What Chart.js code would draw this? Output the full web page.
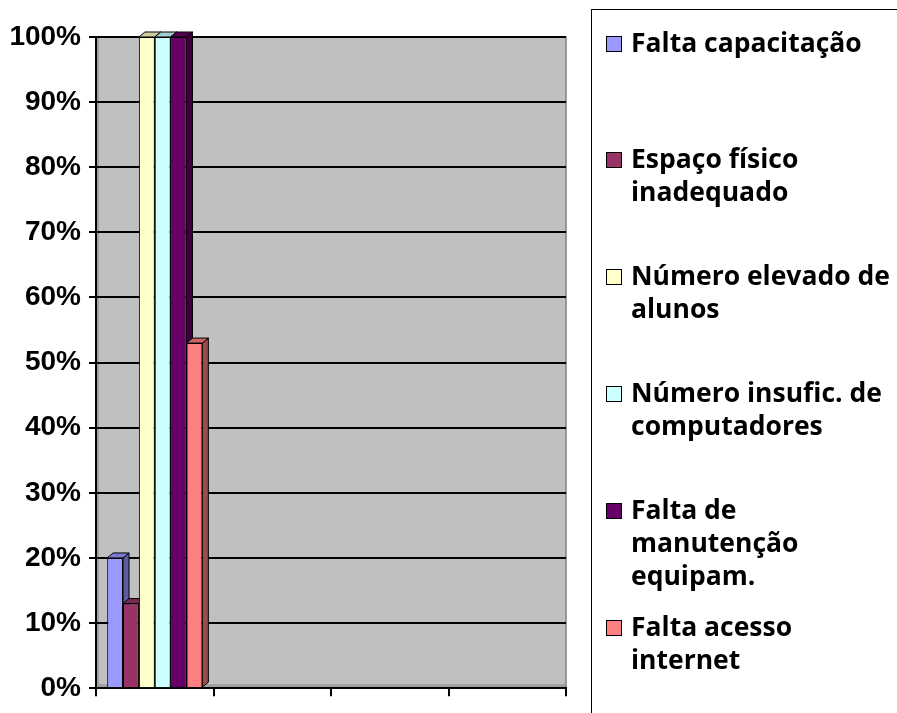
<!DOCTYPE html>
<html lang="pt">
<head>
    <meta charset="utf-8"/>
    <script src="https://cdn.jsdelivr.net/npm/chart.js@4.4.1/dist/chart.umd.min.js"></script>
    <style>
        body { margin: 0; background: #fff; }
        #wrap { position: relative; width: 897px; height: 713px; overflow: hidden; }
        #legend {
            position: absolute; left: 591px; top: 9px; width: 320px; height: 720px;
            border: 1px solid #000; box-sizing: border-box;
            font-family: "Open Sans", sans-serif; font-weight: 700; font-size: 26.5px;
        }
        .item { position: absolute; left: 39px; width: 268px; line-height: 33px; }
        .box { position: absolute; left: -25px; top: 10px; width: 14px; height: 14px; border: 1px solid #000; }
    </style>
</head>
<body>
    <div id="wrap">
        <canvas id="chart" width="897" height="713"></canvas>
        <div id="legend"></div>
    </div>
    <script>
        // one group of bars, three empty category slots
        const categories = ["", "", "", ""];
        const seriesNames = [
            "Falta capacitação",
            "Espaço físico inadequado",
            "Número elevado de alunos",
            "Número insufic. de computadores",
            "Falta de manutenção equipam.",
            "Falta acesso internet"
        ];
        const seriesValues = [20, 13, 100, 100, 100, 53];
        const seriesColors = ["#9999FF", "#993366", "#FFFFCC", "#CCFFFF", "#660066", "#FF8080"];
        const yTicks = [0, 10, 20, 30, 40, 50, 60, 70, 80, 90, 100];

        function shade(hex, f) {
            const n = parseInt(hex.slice(1), 16);
            const r = Math.round(((n >> 16) & 255) * f);
            const g = Math.round(((n >> 8) & 255) * f);
            const b = Math.round((n & 255) * f);
            return "rgb(" + r + "," + g + "," + b + ")";
        }

        const DX = 6, DY = 5;

        // grey wall behind the bars
        const plotBack = {
            id: "plotBack",
            beforeDraw(chart) {
                const a = chart.chartArea, ctx = chart.ctx;
                ctx.save();
                ctx.fillStyle = "#C0C0C0";
                ctx.fillRect(a.left, a.top, a.right - a.left, a.bottom - a.top);
                ctx.fillStyle = "#A0A0A0";
                ctx.fillRect(a.left, a.top, 3, a.bottom - a.top);
                ctx.fillRect(a.left, a.bottom - 4, a.right - a.left, 4);
                ctx.strokeStyle = "#808080";
                ctx.lineWidth = 1.5;
                ctx.strokeRect(a.left, a.top, a.right - a.left, a.bottom - a.top);
                ctx.restore();
            }
        };

        // side and top faces, taken from the bar elements the scales placed
        const bar3d = {
            id: "bar3d",
            beforeDatasetsDraw(chart) {
                const ctx = chart.ctx;
                ctx.save();
                ctx.lineWidth = 1;
                ctx.strokeStyle = "#000";
                chart.data.datasets.forEach((ds, i) => {
                    const meta = chart.getDatasetMeta(i);
                    meta.data.forEach((bar, j) => {
                        if (ds.data[j] == null) return;
                        const p = bar.getProps(["x", "y", "base", "width"], true);
                        const l = p.x - p.width / 2, r = p.x + p.width / 2;
                        ctx.fillStyle = shade(seriesColors[i], 0.6);
                        ctx.beginPath();
                        ctx.moveTo(r, p.y);
                        ctx.lineTo(r + DX, p.y - DY);
                        ctx.lineTo(r + DX, p.base - DY);
                        ctx.lineTo(r, p.base);
                        ctx.closePath();
                        ctx.fill(); ctx.stroke();
                        ctx.fillStyle = shade(seriesColors[i], 0.8);
                        ctx.beginPath();
                        ctx.moveTo(l, p.y);
                        ctx.lineTo(l + DX, p.y - DY);
                        ctx.lineTo(r + DX, p.y - DY);
                        ctx.lineTo(r, p.y);
                        ctx.closePath();
                        ctx.fill(); ctx.stroke();
                    });
                });
                ctx.restore();
            }
        };

        const datasets = seriesNames.map((name, i) => ({
            label: name,
            data: [seriesValues[i], null, null, null],
            backgroundColor: seriesColors[i],
            borderColor: "#000",
            borderWidth: 1,
            barPercentage: 1.0,
            categoryPercentage: 0.81
        }));

        new Chart(document.getElementById("chart"), {
            type: "bar",
            data: { labels: categories, datasets: datasets },
            plugins: [plotBack, bar3d],
            options: {
                responsive: false,
                animation: false,
                devicePixelRatio: 1,
                layout: { padding: { top: 37, right: 331, left: 0, bottom: 0 } },
                plugins: { legend: { display: false }, tooltip: { enabled: false } },
                scales: {
                    x: {
                        offset: true,
                        grid: { offset: true, drawOnChartArea: false, color: "#000", lineWidth: 2, tickLength: 8 },
                        border: { color: "#000", width: 2 },
                        ticks: { display: true, padding: 0, font: { size: 1 } },
                        afterFit(scale) { scale.height = 18; }
                    },
                    y: {
                        min: 0,
                        max: 100,
                        afterBuildTicks(scale) { scale.ticks = yTicks.map(v => ({ value: v })); },
                        grid: { color: "#000", lineWidth: 2, tickLength: 7 },
                        border: { color: "#000", width: 2 },
                        ticks: {
                            padding: 8,
                            color: "#000",
                            font: { family: "'Liberation Sans', Arial, sans-serif", weight: "bold", size: 28 },
                            callback: v => v + "%"
                        },
                        afterFit(scale) { scale.width = 96; }
                    }
                }
            }
        });

        // legend, built from the series names and colours
        const legend = document.getElementById("legend");
        seriesNames.forEach((name, i) => {
            const item = document.createElement("div");
            item.className = "item";
            item.style.top = Math.round(15.5 + i * 116.8) + "px";
            const box = document.createElement("span");
            box.className = "box";
            box.style.background = seriesColors[i];
            item.appendChild(box);
            item.appendChild(document.createTextNode(name));
            legend.appendChild(item);
        });
    </script>
</body>
</html>
